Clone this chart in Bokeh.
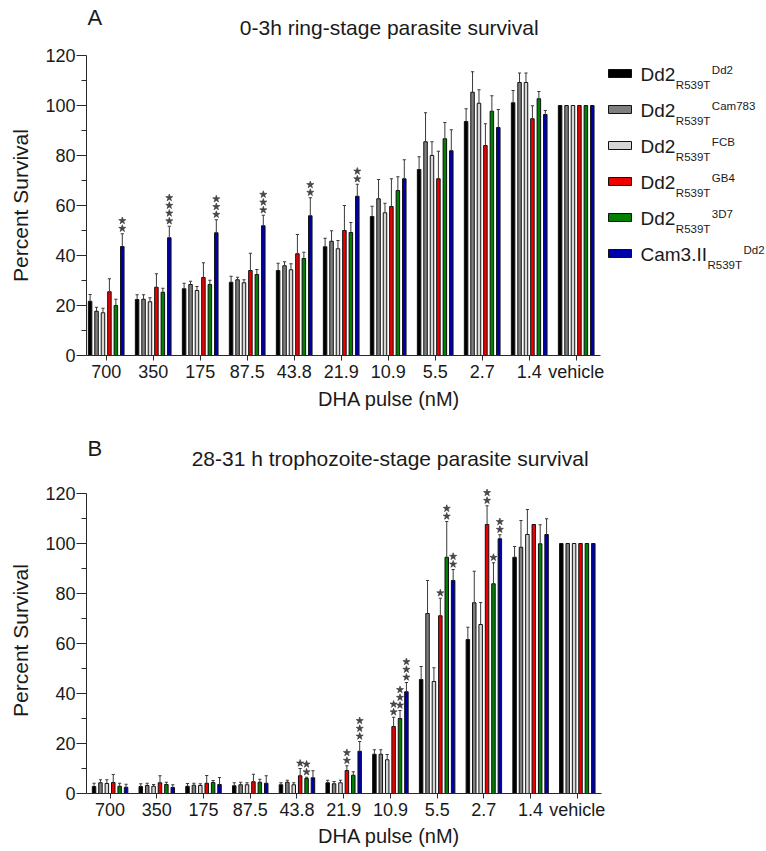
import numpy as np
from bokeh.plotting import figure
from bokeh.models import Range1d, FixedTicker
from bokeh.layouts import column
from bokeh.embed import file_html
from bokeh.resources import INLINE
from bokeh.core.properties import value

# ---------------- data ----------------
doses = ["700", "350", "175", "87.5", "43.8", "21.9", "10.9", "5.5", "2.7", "1.4", "vehicle"]

strain_main = ["Dd2", "Dd2", "Dd2", "Dd2", "Dd2", "Cam3.II"]
strain_sub = ["R539T", "R539T", "R539T", "R539T", "R539T", "R539T"]
strain_sup = ["Dd2", "Cam783", "FCB", "GB4", "3D7", "Dd2"]
strain_colors = ["#000000", "#7f7f7f", "#d6d6d6", "#ee0000", "#008000", "#0000aa"]

# Panel A: 0-3h ring-stage survival (%), upper error (SD), significance stars
ring_dd2 = [21.7, 22.4, 26.7, 29.3, 34.0, 43.5, 55.6, 74.4, 93.6, 101.1, 100]
ring_cam783 = [17.7, 22.5, 28.4, 30.3, 35.9, 45.7, 62.7, 85.5, 105.3, 109.2, 100]
ring_fcb = [17.1, 21.5, 26.0, 29.1, 34.3, 42.7, 57.1, 80.0, 100.9, 109.2, 100]
ring_gb4 = [25.5, 27.3, 31.2, 34.0, 40.7, 50.0, 59.6, 70.7, 84.0, 94.7, 100]
ring_3d7 = [20.0, 25.3, 28.4, 32.4, 38.8, 49.2, 66.0, 86.7, 97.7, 102.7, 100]
ring_cam3 = [43.6, 47.1, 49.1, 51.9, 55.9, 63.7, 70.7, 81.9, 91.2, 96.4, 100]

ring_dd2_sd = [2.7, 1.9, 2.2, 2.4, 2.9, 3.4, 4.1, 5.1, 5.1, 4.9, 0]
ring_cam783_sd = [1.6, 1.8, 1.3, 1.0, 1.6, 4.2, 7.7, 11.6, 8.2, 3.8, 0]
ring_fcb_sd = [1.8, 1.6, 1.6, 1.2, 2.4, 3.3, 3.8, 5.5, 5.4, 3.8, 0]
ring_gb4_sd = [5.2, 5.4, 5.9, 6.9, 7.7, 10.0, 11.1, 11.0, 8.7, 5.2, 0]
ring_3d7_sd = [2.5, 1.6, 1.7, 2.0, 2.5, 4.0, 5.5, 6.5, 6.2, 2.9, 0]
ring_cam3_sd = [5.1, 4.6, 5.2, 4.2, 7.2, 4.8, 7.6, 8.4, 7.2, 1.6, 0]

ring_cam3_stars = [2, 4, 3, 3, 2, 2, 0, 0, 0, 0, 0]

# Panel B: 28-31 h trophozoite-stage survival (%)
troph_dd2 = [2.8, 2.8, 2.9, 3.1, 3.5, 4.3, 15.7, 45.6, 61.6, 94.5, 100]
troph_cam783 = [4.3, 3.2, 3.3, 3.5, 4.5, 3.9, 15.7, 72.0, 76.3, 98.5, 100]
troph_fcb = [4.0, 2.9, 3.2, 3.5, 3.5, 4.3, 13.5, 44.8, 67.6, 103.6, 100]
troph_gb4 = [4.4, 4.3, 4.1, 4.7, 7.1, 9.2, 26.8, 71.1, 107.6, 107.6, 100]
troph_3d7 = [2.9, 3.6, 4.4, 4.5, 6.0, 7.3, 30.0, 94.5, 83.9, 99.9, 100]
troph_cam3 = [2.5, 2.4, 3.6, 4.1, 6.3, 16.9, 40.7, 85.2, 101.9, 103.6, 100]

troph_dd2_sd = [1.3, 1.1, 1.1, 1.2, 0.8, 1.0, 1.8, 5.2, 4.9, 4.3, 0]
troph_cam783_sd = [1.2, 0.9, 0.8, 1.0, 0.8, 0.9, 1.8, 13.2, 12.6, 10.7, 0]
troph_fcb_sd = [1.5, 0.7, 0.7, 0.8, 0.8, 1.0, 2.1, 5.5, 8.8, 10.0, 0]
troph_gb4_sd = [3.2, 2.8, 3.1, 3.0, 2.9, 1.9, 3.7, 7.0, 7.5, 0, 0]
troph_3d7_sd = [1.2, 0.9, 0.8, 1.2, 0.5, 1.4, 3.2, 14.3, 8.4, 7.6, 0]
troph_cam3_sd = [1.2, 1.1, 2.8, 3.0, 2.8, 3.9, 3.7, 4.4, 1.6, 6.3, 0]

troph_gb4_stars = [0, 0, 0, 0, 1, 2, 2, 1, 2, 0, 0]
troph_3d7_stars = [0, 0, 0, 0, 2, 0, 3, 2, 1, 0, 0]
troph_cam3_stars = [0, 0, 0, 0, 0, 3, 3, 2, 2, 0, 0]

no_stars = [0] * 11

ring_vals = [ring_dd2, ring_cam783, ring_fcb, ring_gb4, ring_3d7, ring_cam3]
ring_sds = [ring_dd2_sd, ring_cam783_sd, ring_fcb_sd, ring_gb4_sd, ring_3d7_sd, ring_cam3_sd]
ring_stars = [no_stars, no_stars, no_stars, no_stars, no_stars, ring_cam3_stars]

troph_vals = [troph_dd2, troph_cam783, troph_fcb, troph_gb4, troph_3d7, troph_cam3]
troph_sds = [troph_dd2_sd, troph_cam783_sd, troph_fcb_sd, troph_gb4_sd, troph_3d7_sd, troph_cam3_sd]
troph_stars = [no_stars, no_stars, no_stars, troph_gb4_stars, troph_3d7_stars, troph_cam3_stars]

title_a = "0-3h ring-stage parasite survival"
title_b = "28-31 h trophozoite-stage parasite survival"
y_label = "Percent Survival"
x_label = "DHA pulse (nM)"

# ---------------- layout constants ----------------
FONT = "Liberation Sans"
TXT = "#1a1a1a"
AXC = "#2a2a2a"
W = 766
PXG = 47.0          # pixels per dose group
G0 = 105.7          # page x of first group centre
PXV = 2.5           # pixels per percent
BFIX = 0.33         # baseline correction (fraction of font size)

AW = {"D": .722, "d": .556, "2": .556, "C": .722, "a": .556, "m": .833, "3": .556,
      ".": .278, "I": .278, "R": .722, "5": .556, "9": .556, "T": .611, "7": .556,
      "8": .556, "F": .611, "B": .667, "G": .778, "4": .556}


def tw(s, size):
    return sum(AW.get(c, 0.556) for c in s) * size


def gx(px):
    return (px - G0) / PXG


def put_text(fig, x, y, t, size, align="left"):
    fig.text(x=[x], y=[y], text=[t], text_font=value(FONT), text_font_size=f"{size}px",
             text_color=TXT, text_align=align, text_baseline="alphabetic",
             y_offset=-BFIX * size)


def strip(top, h, items):
    """A text-only strip; items: (x_px, baseline_page_px, text, size, align)."""
    s = figure(width=W, height=h, output_backend="svg", toolbar_location=None, title=None,
               x_range=Range1d(0, W), y_range=Range1d(top + h, top),
               x_axis_type=None, y_axis_type=None,
               min_border_left=0, min_border_right=0, min_border_top=0, min_border_bottom=0)
    s.outline_line_color = None
    s.background_fill_color = "white"
    s.border_fill_color = "white"
    for (x, y, t, size, align) in items:
        put_text(s, x, y, t, size, align)
    return s


def make_panel(vals, sds, stars, axis_px, frame_bottom, y_top, fig_top, fig_h):
    frame_top = frame_bottom - y_top * PXV
    p = figure(width=W, height=fig_h, output_backend="svg", toolbar_location=None, title=None,
               x_range=Range1d(gx(axis_px), gx(W)), y_range=Range1d(0, y_top),
               min_border_left=axis_px, min_border_right=0,
               min_border_top=int(round(frame_top - fig_top)),
               min_border_bottom=fig_top + fig_h - frame_bottom)
    p.outline_line_color = None
    p.xgrid.visible = False
    p.ygrid.visible = False
    p.background_fill_color = "white"
    p.border_fill_color = "white"

    xa = p.xaxis[0]
    xa.ticker = FixedTicker(ticks=list(range(len(doses))))
    xa.major_label_overrides = {i: d for i, d in enumerate(doses)}
    xa.bounds = (gx(axis_px), 10.52)
    xa.major_tick_in = 0
    xa.major_tick_out = 5
    xa.minor_tick_out = 0
    xa.minor_tick_in = 0
    xa.major_label_standoff = 1
    xa.major_label_text_font = FONT
    xa.major_label_text_font_size = "18px"
    xa.major_label_text_color = TXT
    xa.axis_line_color = AXC
    xa.major_tick_line_color = AXC

    ya = p.yaxis[0]
    ya.ticker = FixedTicker(ticks=[0, 20, 40, 60, 80, 100, 120],
                            minor_ticks=[10, 30, 50, 70, 90, 110])
    ya.bounds = (0, 120)
    ya.major_tick_in = 0
    ya.major_tick_out = 10
    ya.minor_tick_in = 0
    ya.minor_tick_out = 5
    ya.major_label_standoff = 1
    ya.major_label_text_font = FONT
    ya.major_label_text_font_size = "18px"
    ya.major_label_text_color = TXT
    ya.axis_line_color = AXC
    ya.major_tick_line_color = AXC
    ya.minor_tick_line_color = AXC
    ya.axis_label = y_label
    ya.axis_label_text_font = FONT
    ya.axis_label_text_font_size = "21px"
    ya.axis_label_text_font_style = "normal"
    ya.axis_label_text_color = TXT
    ya.axis_label_standoff = 10

    pitch = 6.44 / PXG
    bw = 3.5 / PXG
    cap = 1.6 / PXG
    groups = np.arange(len(doses))
    for i in range(6):
        xs = groups + (i - 2.5) * pitch
        v = np.array(vals[i], dtype=float)
        sd = np.array(sds[i], dtype=float)
        st = np.array(stars[i])
        p.vbar(x=xs, top=v, width=bw, bottom=0, fill_color=strain_colors[i],
               line_color="#111111", line_width=1)
        m = sd > 0
        p.segment(x0=xs[m], y0=v[m], x1=xs[m], y1=(v + sd)[m], line_color="#3a3a3a", line_width=1)
        p.segment(x0=xs[m] - cap, y0=(v + sd)[m], x1=xs[m] + cap, y1=(v + sd)[m],
                  line_color="#3a3a3a", line_width=1)
        sx, sy = [], []
        for g in range(len(doses)):
            for k in range(st[g]):
                sx.append(xs[g])
                sy.append(v[g] + sd[g] + 2.1 + 3.1 * k)
        if sx:
            p.scatter(x=sx, y=sy, marker="star", size=7.5, fill_color="#4a4a4a",
                      line_color="#333333", line_width=0.6)
    return p


# header strip above panel A
hdrA = strip(0, 43, [(1, 24, "A", 22, "left"),
                     (341, 34, title_a, 21, "center")])

# Panel A (frame 55..355 page px)
pA = make_panel(ring_vals, ring_sds, ring_stars, axis_px=86, frame_bottom=355, y_top=120,
                fig_top=43, fig_h=342)

# Legend for panel A, drawn inside the frame to the right of the axis bounds
def vyA(py):
    return (355 - py) / PXV

sw_left = 608
for i in range(6):
    cy = 73 + 36 * i
    pA.rect(x=[gx(sw_left + 11.5)], y=[vyA(cy)], width=23 / PXG, height=8 / PXV,
            fill_color=strain_colors[i], line_color="#111111", line_width=1)
    tx = 640
    put_text(pA, gx(tx), vyA(cy + 7), strain_main[i], 19)
    sub_x = tx + tw(strain_main[i], 19) + 0.5
    put_text(pA, gx(sub_x), vyA(cy + 15.5), strain_sub[i], 11.5)
    sup_x = sub_x + tw(strain_sub[i], 11.5) + 1.5
    put_text(pA, gx(sup_x), vyA(cy), strain_sup[i], 11.5)

# strip between panels: x label of A, letter B, title B
midAB = strip(385, 96, [(341, 405, x_label, 20, "center"),
                        (1, 455.5, "B", 22, "left"),
                        (342, 465, title_b, 21, "center")])

# Panel B (frame bottom 793 page px, 120 at 493)
pB = make_panel(troph_vals, troph_sds, troph_stars, axis_px=82, frame_bottom=793, y_top=122.4,
                fig_top=481, fig_h=342)

# footer strip: x label of B
ftB = strip(823, 25, [(341, 842, x_label, 20, "center")])

layout = column(hdrA, pA, midAB, pB, ftB, spacing=0)
open("out.html", "w").write(file_html(layout, INLINE))
